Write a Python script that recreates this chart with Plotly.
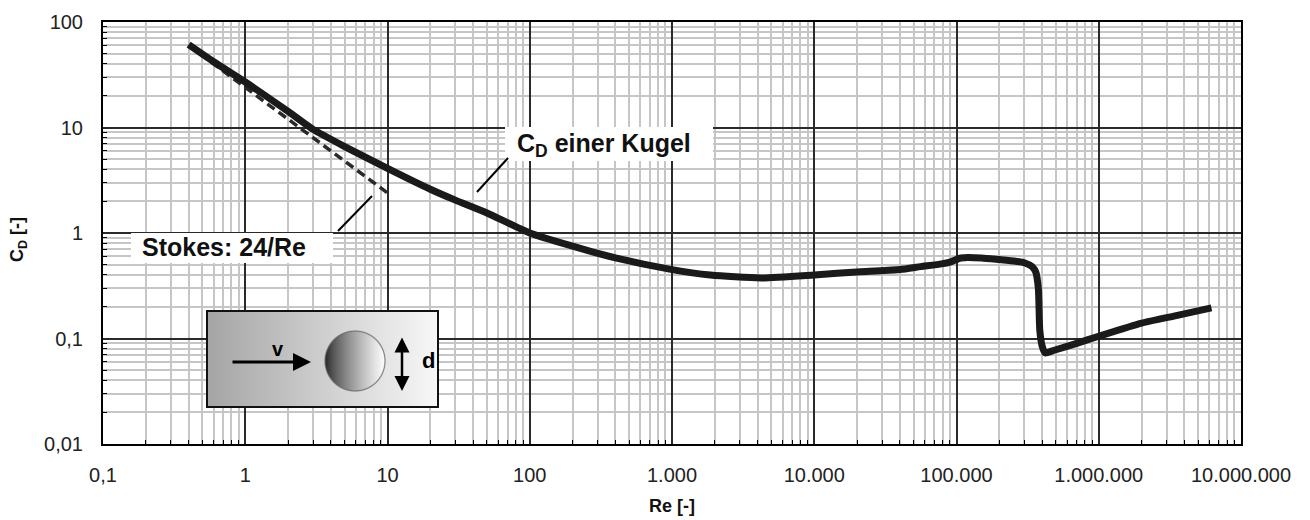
import base64, struct, zlib
import numpy as np
import plotly.graph_objects as go

# ---------------- data ----------------
re_sphere = [0.4, 0.6, 1, 2, 3, 5, 10, 20, 30, 50, 100, 200, 400,
             1000, 1860, 4200, 10000, 21200, 40000, 56000, 78500, 90000, 107000,
             150000, 200000, 260000, 303000, 340000, 360000, 376000, 385000, 400000,
             420000, 480000, 700000, 1000000, 2000000, 3500000, 6200000]
cd_sphere = [61, 42, 27, 14.2, 9.6, 6.6, 4.1, 2.6, 2.05, 1.55, 1.0, 0.75, 0.58,
             0.45, 0.40, 0.375, 0.40, 0.43, 0.45, 0.48, 0.51,
             0.53, 0.58, 0.58, 0.56, 0.54, 0.52, 0.48, 0.43, 0.30, 0.12, 0.085, 0.073,
             0.077, 0.09, 0.105, 0.14, 0.165, 0.195]

re_stokes = [0.4, 10]
cd_stokes = [60, 2.4]

x_tickvals = [0.1, 1, 10, 100, 1e3, 1e4, 1e5, 1e6, 1e7]
x_ticktext = ["0,1", "1", "10", "100", "1.000", "10.000", "100.000", "1.000.000", "10.000.000"]
y_tickvals = [0.01, 0.1, 1, 10, 100]
y_ticktext = ["0,01", "0,1", "1", "10", "100"]

x_minor = [m * 10.0 ** e for e in range(-1, 7) for m in range(2, 10)]
y_minor = [m * 10.0 ** e for e in range(-2, 2) for m in range(2, 10)]

# ---------------- geometry helpers (page pixel -> paper) ----------------
W, H = 1310, 520
OFF = 8  # page body margin of the html page
L, R, T, B = 103, 1241, 22, 444


def px(x):
    return (x - L) / (R - L)


def py(y):
    return (B - y) / (B - T)


FONT = "Liberation Sans, Arial, sans-serif"

# ---------------- inset picture (gradient box + sphere) ----------------
S = 2
iw, ih = 231 * S, 96 * S
xx, yy = np.meshgrid(np.arange(iw) + 0.5, np.arange(ih) + 0.5)
t = xx / iw
g = 165 + (248 - 165) * t
img = np.stack([g, g, g], axis=-1)
cx, cy, r = 148 * S, 50 * S, 30 * S
d = np.sqrt((xx - cx) ** 2 + (yy - cy) ** 2)
u = np.clip((xx - (cx - r)) / (2 * r), 0, 1)
cg = 35 + (255 - 35) * u ** 0.75
inside = np.clip(r - d, 0, 1)
ring = np.clip(1 - np.abs(d - r) / (1.0 * S), 0, 1)
for k in range(3):
    img[..., k] = img[..., k] * (1 - inside) + cg * inside
    img[..., k] = img[..., k] * (1 - ring * 0.8) + 80 * ring * 0.8
rgba = np.dstack([img, np.full((ih, iw), 255.0)]).clip(0, 255).astype(np.uint8)


def png_uri(a):
    h, w = a.shape[:2]
    raw = b"".join(b"\x00" + a[i].tobytes() for i in range(h))

    def chunk(tag, data):
        return (struct.pack(">I", len(data)) + tag + data
                + struct.pack(">I", zlib.crc32(tag + data) & 0xFFFFFFFF))

    png = (b"\x89PNG\r\n\x1a\n"
           + chunk(b"IHDR", struct.pack(">IIBBBBB", w, h, 8, 6, 0, 0, 0))
           + chunk(b"IDAT", zlib.compress(raw, 9))
           + chunk(b"IEND", b""))
    return "data:image/png;base64," + base64.b64encode(png).decode()


# ---------------- figure ----------------
fig = go.Figure()
fig.add_trace(go.Scatter(x=re_stokes, y=cd_stokes, mode="lines",
                         line=dict(color="#2a2a2a", width=3.5, dash="9px,5px"),
                         showlegend=False, hoverinfo="skip"))
fig.add_trace(go.Scatter(x=re_sphere, y=cd_sphere, mode="lines",
                         line=dict(color="#1a1a1a", width=7, shape="spline", smoothing=0.6),
                         showlegend=False))

axis_common = dict(
    type="log", showline=True, linecolor="black", linewidth=2, mirror=True,
    showgrid=True, gridcolor="#2a2a2a", gridwidth=1.5,
    ticks="", tickfont=dict(family=FONT, size=20, color="#222222"),
    zeroline=False,
)
fig.update_xaxes(**axis_common, range=[-1, 7], tickvals=x_tickvals, ticktext=x_ticktext,
                 ticklabelstandoff=12,
                 minor=dict(tickvals=x_minor, showgrid=True, gridcolor="#c6c6c6", gridwidth=1.5,
                            ticks="inside", ticklen=4, tickcolor="black", tickwidth=1),
                 title=dict(text="<b>Re [-]</b>", font=dict(family=FONT, size=18, color="#111111"),
                            standoff=14))
fig.update_yaxes(**axis_common, range=[-2, 2], tickvals=y_tickvals, ticktext=y_ticktext,
                 ticklabelstandoff=14,
                 minor=dict(tickvals=y_minor, showgrid=True, gridcolor="#c6c6c6", gridwidth=1.5,
                            ticks="inside", ticklen=4, tickcolor="black", tickwidth=1))

shapes = []
# white label boxes
shapes.append(dict(type="rect", xref="paper", yref="paper", layer="above",
                   x0=px(505), x1=px(713), y0=py(161), y1=py(127),
                   fillcolor="white", line=dict(width=0)))
shapes.append(dict(type="rect", xref="paper", yref="paper", layer="above",
                   x0=px(131), x1=px(333), y0=py(263), y1=py(233),
                   fillcolor="white", line=dict(width=0)))
# leader lines
shapes.append(dict(type="line", xref="paper", yref="paper", layer="above",
                   x0=px(477), y0=py(192), x1=px(508), y1=py(158),
                   line=dict(color="black", width=2)))
shapes.append(dict(type="line", xref="paper", yref="paper", layer="above",
                   x0=px(338), y0=py(231), x1=px(372), y1=py(196),
                   line=dict(color="black", width=2)))
# inset border
shapes.append(dict(type="rect", xref="paper", yref="paper", layer="above",
                   x0=px(207), x1=px(438), y0=py(407), y1=py(311),
                   fillcolor="rgba(0,0,0,0)", line=dict(color="#111111", width=2)))

fig.update_layout(
    width=W, height=H,
    margin=dict(l=L - OFF, r=W - R + OFF, t=T - OFF, b=H - B + OFF, autoexpand=False),
    plot_bgcolor="white", paper_bgcolor="white",
    font=dict(family=FONT),
    shapes=shapes,
    images=[dict(source=png_uri(rgba), xref="paper", yref="paper",
                 x=px(207), y=py(311), sizex=px(438) - px(207), sizey=py(311) - py(407),
                 xanchor="left", yanchor="top", sizing="stretch", layer="above")],
)

ann = []
ann.append(dict(text="<b>C<sub>D</sub> [-]</b>", xref="paper", yref="paper",
                x=px(18), y=py(240), showarrow=False, textangle=-90,
                xanchor="center", yanchor="middle",
                font=dict(family=FONT, size=18, color="#111111")))
ann.append(dict(text="<b>C<sub>D</sub> einer Kugel</b>", xref="paper", yref="paper",
                x=px(604), y=py(145), showarrow=False, xanchor="center", yanchor="middle",
                font=dict(family=FONT, size=25, color="#111111")))
ann.append(dict(text="<b>Stokes: 24/Re</b>", xref="paper", yref="paper",
                x=px(224), y=py(247), showarrow=False, xanchor="center", yanchor="middle",
                font=dict(family=FONT, size=25, color="#111111")))
# inset arrows and labels
ann.append(dict(text="", xref="paper", yref="paper", x=px(311), y=py(362),
                ax=-80, ay=0, showarrow=True, arrowhead=2, arrowsize=1.2, arrowwidth=3,
                arrowcolor="black"))
ann.append(dict(text="<b>v</b>", xref="paper", yref="paper", x=px(270), y=py(362),
                showarrow=False, font=dict(family=FONT, size=20, color="black")))
ann.append(dict(text="", xref="paper", yref="paper", x=px(402), y=py(391),
                ax=0, ay=-55, showarrow=True, arrowhead=2, arrowside="end+start",
                arrowsize=1.2, arrowwidth=2.5, arrowcolor="black"))
ann.append(dict(text="<b>d</b>", xref="paper", yref="paper", x=px(420), y=py(375),
                showarrow=False, font=dict(family=FONT, size=22, color="black")))
fig.update_layout(annotations=ann)

fig.write_html("out.html")
